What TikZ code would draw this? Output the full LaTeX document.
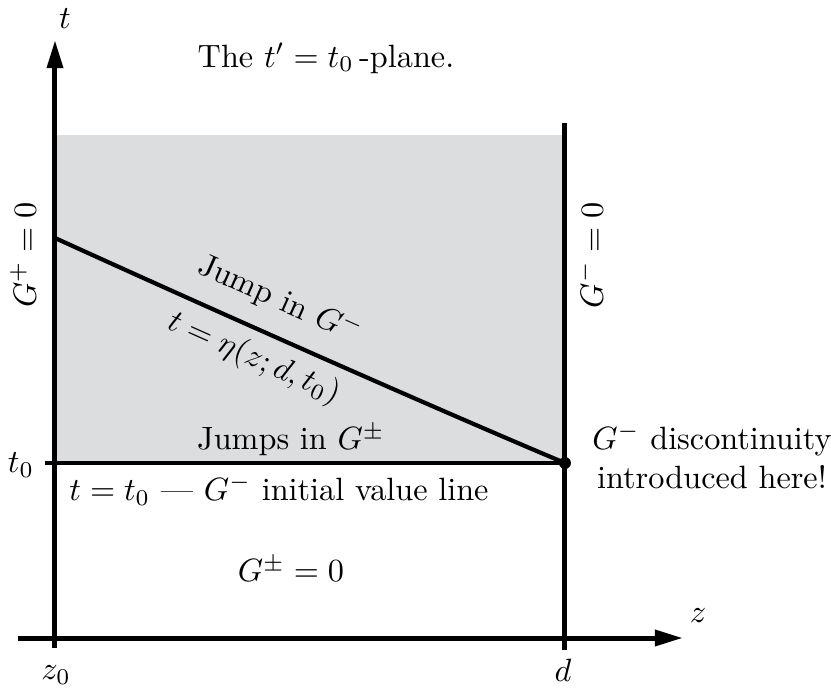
\documentclass[tikz,border=0pt]{standalone}
\usepackage{amsmath,amssymb}
\usepackage{xcolor}
\usepackage{tikz}
\usetikzlibrary{arrows.meta}
\usetikzlibrary{positioning}

\definecolor{planegray}{HTML}{DCDDDF}
\tikzset{
  axis/.style={line width=1.55pt, -{Triangle[length=8.7pt,width=4.8pt]}},
  bound/.style={line width=1.55pt},
  thin line/.style={line width=1.3pt},
}

\begin{document}
\begin{tikzpicture}[x=0.31pt, y=-0.31pt]
  \useasboundingbox (0,0) rectangle (831,691);

  % points of the plane
  \coordinate (zs) at (18,638);
  \coordinate (ze) at (683,638);
  \coordinate (ts) at (55,648);
  \coordinate (te) at (55,40);
  \coordinate (dtop) at (565,123);
  \coordinate (dbot) at (565,650);
  \coordinate (t0l) at (55,463);
  \coordinate (t0r) at (565,463);
  \coordinate (tk) at (45,463);
  \coordinate (cs) at (55,238);

  % shaded region above t = t_0
  \fill[planegray] (55,135) rectangle (t0r);

  % axes
  \draw[axis] (zs) -- (ze);
  \draw[axis] (ts) -- (te);
  \draw[bound] (dbot) -- (dtop);
  \draw[line width=1.2pt] (tk) -- (t0l);

  % initial value line and the jump curve
  \draw[thin line] (t0l) -- (t0r);
  \draw[thin line] (cs) .. controls (200,304) and (420,402) .. (t0r);
  \fill (t0r) circle (6);

  % axis labels
  \node (tlab) at (65,19) {$t$};
  \node (zlab) at (698,616) {$z$};
  \node (zzero) at (56,675) {$z_0$};
  \node (dlab) at (563,670) {$d$};
  \node (tzero) at (21,465) {$t_0$};

  % texts
  \node (title) at (326,58) {The $t'=t_0$\,-plane.};
  \node[rotate=90] (gplus) at (23,255) {$G^+=0$};
  \node[rotate=90] (gminus) at (590,255) {$G^-=0$};
  \node[rotate=-24, align=center] (jump) at (267,329)
    {Jump in $G^-$\\[7.5pt] $t=\eta(z;d,t_0)$};
  \node (jumps) at (291,440) {Jumps in $G^\pm$};
  \node (initial) at (279,490) {$t=t_0$ --- $G^-$ initial value line};
  \node (zero) at (291,569) {$G^\pm=0$};
  \node[align=center] (disc) at (712,456) {$G^-$ discontinuity\\ introduced here!};
\end{tikzpicture}
\end{document}
